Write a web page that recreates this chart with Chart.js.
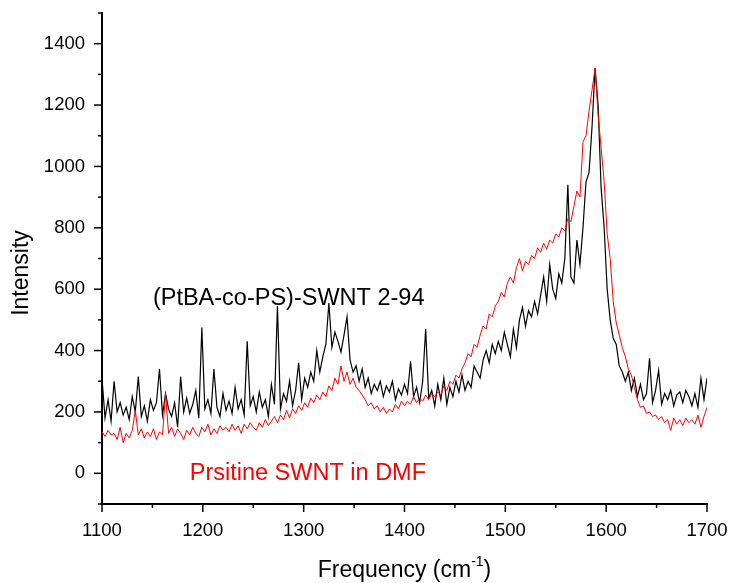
<!DOCTYPE html>
<html lang="en">
<head>
    <meta charset="UTF-8">
    <title>Raman spectra</title>
    <script src="https://cdn.jsdelivr.net/npm/chart.js"></script>
    <style>
        body {
            margin: 0;
            padding: 0;
            background: #fff;
        }

        #wrap {
            width: 730px;
            height: 583px;
        }
    </style>
</head>
<body>
    <div id="wrap"><canvas id="ramanChart" width="730" height="583"></canvas></div>

    <script>
        // frequency grid, cm-1 (1100 .. 1700, every 3)
        const freqStart = 1100;
        const freqStep = 3;

        // (PtBA-co-PS)-SWNT 2-94
        const polymerSwnt = [
            310, 180, 240, 170, 300, 200, 230, 190, 215, 175, 250,
            200, 315, 185, 220, 170, 240, 205, 230, 340, 190,
            260, 210, 185, 230, 150, 315, 200, 245, 195, 225,
            270, 180, 475, 210, 240, 195, 340, 215, 185, 260,
            205, 235, 195, 280, 210, 240, 190, 430, 220, 250,
            200, 265, 215, 240, 185, 290, 225, 545, 210, 260,
            235, 300, 220, 270, 360, 240, 310, 280, 330, 300,
            400, 330, 380, 420, 555, 410, 460, 430, 395, 450,
            510, 370, 330, 350, 300, 340, 280, 310, 260, 290,
            270, 300, 250, 285, 265, 300, 240, 275, 255, 290,
            260, 365, 250, 280, 230, 300, 470, 245, 270, 220,
            290, 240, 310, 225, 280, 250, 300, 265, 320, 270,
            300, 280, 350, 330, 310, 370, 400, 360, 420, 390,
            430, 400, 460, 420, 380, 470, 410, 500, 540, 480,
            530, 510, 560, 520, 580, 640, 560, 680, 600, 570,
            650, 620, 700, 940, 640, 620, 760, 680, 800, 950,
            980, 1130, 1320, 1200, 930, 800, 600, 500, 440, 420,
            350, 330, 300, 330, 270, 310, 250, 290, 240, 260,
            375, 230, 270, 335, 225, 260, 240, 270, 220, 255,
            265, 230, 270, 250, 220, 260, 215, 310, 240, 310
        ];

        // Prsitine SWNT in DMF
        const pristineSwnt = [
            135, 120, 140, 125, 130, 110, 150, 100, 130, 115, 140,
            205, 125, 145, 115, 135, 120, 145, 110, 135, 125,
            260, 130, 150, 120, 145, 130, 110, 140, 125, 150,
            130, 120, 150, 135, 160, 125, 145, 130, 155, 140,
            150, 135, 160, 140, 155, 130, 160, 145, 165, 150,
            140, 165, 150, 175, 155, 170, 185, 165, 190, 175,
            205, 180, 210, 195, 220, 205, 230, 215, 245, 230,
            255, 240, 265, 250, 285, 270, 310, 290, 350, 300,
            330, 290, 310, 280, 270, 255, 240, 220, 230, 210,
            220, 200, 215, 195, 210, 200, 225, 210, 235, 220,
            235, 225, 250, 230, 245, 235, 255, 240, 260, 250,
            265, 255, 285, 270, 300, 290, 320, 310, 340, 360,
            390, 380, 420, 410, 450, 480, 470, 520, 510, 545,
            560, 590, 575, 620, 640, 620, 670, 700, 660, 690,
            680, 710, 700, 735, 720, 750, 730, 760, 750, 780,
            770, 800, 790, 830, 820, 870, 920, 900, 1080, 1100,
            1180, 1250, 1320, 1170, 1060, 950, 780, 700, 560, 490,
            450, 410, 380, 340, 320, 280, 240, 215, 220, 195,
            200, 185, 190, 175, 185, 165, 175, 140, 180, 160,
            175, 155, 180, 165, 175, 160, 190, 150, 185, 215
        ];

        const yTickLabels = [0, 200, 400, 600, 800, 1000, 1200, 1400];
        const xTickLabels = [1100, 1200, 1300, 1400, 1500, 1600, 1700];

        const toPoints = arr => arr.map((v, i) => ({ x: freqStart + i * freqStep, y: v }));

        const font = '"Liberation Sans", Arial, Helvetica, sans-serif';

        // drop the extra room chart.js keeps for overflowing tick labels
        const noOverflow = s => {
            s.paddingTop = 0;
            s.paddingBottom = 0;
            s.paddingLeft = 0;
            s.paddingRight = 0;
        };

        // ticks outside the axes, long ones on labelled values
        const axisDecor = {
            id: 'axisDecor',
            afterDraw(chart) {
                const { ctx, chartArea, scales } = chart;
                ctx.save();
                ctx.strokeStyle = '#000';
                ctx.lineWidth = 1.5;
                scales.x.ticks.forEach(t => {
                    const px = scales.x.getPixelForValue(t.value);
                    const len = xTickLabels.includes(t.value) ? 8 : 4;
                    ctx.beginPath();
                    ctx.moveTo(px, chartArea.bottom);
                    ctx.lineTo(px, chartArea.bottom + len);
                    ctx.stroke();
                });
                scales.y.ticks.forEach(t => {
                    const py = scales.y.getPixelForValue(t.value);
                    const len = yTickLabels.includes(t.value) ? 8 : 4;
                    ctx.beginPath();
                    ctx.moveTo(chartArea.left, py);
                    ctx.lineTo(chartArea.left - len, py);
                    ctx.stroke();
                });

                // series labels
                ctx.font = '23.5px ' + font;
                ctx.textBaseline = 'alphabetic';
                ctx.textAlign = 'left';
                ctx.fillStyle = '#000';
                ctx.fillText('(PtBA-co-PS)-SWNT 2-94', scales.x.getPixelForValue(1150.5), scales.y.getPixelForValue(548));
                ctx.fillStyle = '#ff0000';
                ctx.fillText('Prsitine SWNT in DMF', scales.x.getPixelForValue(1187), scales.y.getPixelForValue(-23));

                // axis titles
                ctx.fillStyle = '#000';
                ctx.font = '23px ' + font;
                ctx.save();
                ctx.translate(28, 273);
                ctx.rotate(-Math.PI / 2);
                ctx.textAlign = 'center';
                ctx.fillText('Intensity', 0, 0);
                ctx.restore();

                const main = 'Frequency (cm';
                const sup = '-1';
                const close = ')';
                ctx.font = '23px ' + font;
                const wMain = ctx.measureText(main).width;
                const wClose = ctx.measureText(close).width;
                ctx.font = '14px ' + font;
                const wSup = ctx.measureText(sup).width;
                const cx = (chartArea.left + chartArea.right) / 2;
                let x0 = cx - (wMain + wSup + wClose) / 2;
                const base = 577;
                ctx.textAlign = 'left';
                ctx.font = '23px ' + font;
                ctx.fillText(main, x0, base);
                x0 += wMain;
                ctx.font = '14px ' + font;
                ctx.fillText(sup, x0, base - 11);
                x0 += wSup;
                ctx.font = '23px ' + font;
                ctx.fillText(close, x0, base);
                ctx.restore();
            }
        };

        const ctx = document.getElementById('ramanChart').getContext('2d');
        new Chart(ctx, {
            type: 'line',
            data: {
                datasets: [
                    {
                        label: 'Prsitine SWNT in DMF',
                        data: toPoints(pristineSwnt),
                        borderColor: '#ff0000',
                        borderWidth: 1,
                        pointRadius: 0,
                        tension: 0,
                        fill: false
                    },
                    {
                        label: '(PtBA-co-PS)-SWNT 2-94',
                        data: toPoints(polymerSwnt),
                        borderColor: '#000000',
                        borderWidth: 1.2,
                        pointRadius: 0,
                        tension: 0,
                        fill: false
                    }
                ]
            },
            options: {
                responsive: false,
                animation: false,
                layout: {
                    padding: { left: 0, top: 13, right: 23, bottom: 0 }
                },
                plugins: {
                    legend: { display: false },
                    tooltip: { enabled: false }
                },
                scales: {
                    x: {
                        type: 'linear',
                        min: 1100,
                        max: 1700,
                        afterFit: s => { s.height = 79; noOverflow(s); },
                        afterBuildTicks: s => {
                            s.ticks = [];
                            for (let v = 1100; v <= 1700; v += 50) s.ticks.push({ value: v });
                        },
                        ticks: {
                            autoSkip: false,
                            maxRotation: 0,
                            padding: 8,
                            color: '#000',
                            font: { family: font, size: 18.5 },
                            callback: v => xTickLabels.includes(v) ? String(v) : ''
                        },
                        grid: { display: false },
                        border: { display: true, color: '#000', width: 2 }
                    },
                    y: {
                        min: -100,
                        max: 1500,
                        afterFit: s => { s.width = 102; noOverflow(s); },
                        afterBuildTicks: s => {
                            s.ticks = [];
                            for (let v = -100; v <= 1500; v += 100) s.ticks.push({ value: v });
                        },
                        ticks: {
                            autoSkip: false,
                            padding: 9,
                            color: '#000',
                            font: { family: font, size: 18.5 },
                            callback: v => yTickLabels.includes(v) ? String(v) : ''
                        },
                        grid: { display: false },
                        border: { display: true, color: '#000', width: 2 }
                    }
                }
            },
            plugins: [axisDecor]
        });
    </script>
</body>
</html>
